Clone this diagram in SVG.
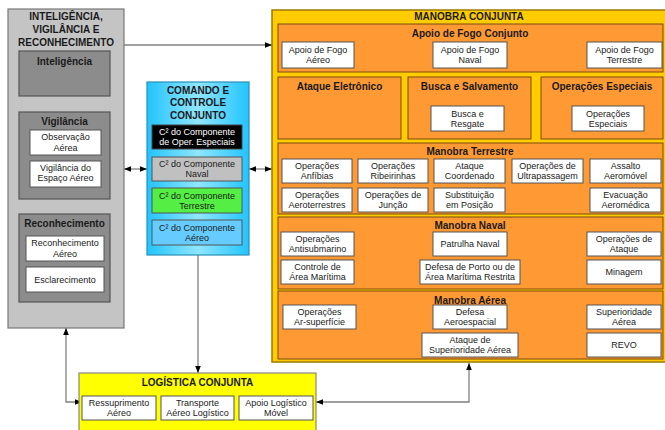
<svg xmlns="http://www.w3.org/2000/svg" width="665" height="430" viewBox="0 0 665 430">
<style>
text{font-family:"Liberation Sans",Arial,sans-serif;text-anchor:middle;fill:#1a1a1a}
.t{font-size:10px;font-weight:bold}
.b{font-size:9px}
.w{fill:#fff;stroke:#555;stroke-width:1}
.or{fill:#FF9933;stroke:#7a4a10;stroke-width:1}
.gi{fill:#8c8c8c;stroke:#555;stroke-width:1.2}
.c{fill:none;stroke:#808080;stroke-width:1.3}
</style>
<defs>
<marker id="ah" viewBox="0 0 10 10" refX="10" refY="5" markerWidth="7" markerHeight="7" orient="auto-start-reverse" markerUnits="userSpaceOnUse">
<path d="M0,1 L10,5 L0,9 Z" fill="#000"/>
</marker>
<linearGradient id="cg" x1="0" y1="0" x2="1" y2="0">
<stop offset="0" stop-color="#22C4FF"/><stop offset="0.5" stop-color="#8FE6FF"/><stop offset="1" stop-color="#22C4FF"/>
</linearGradient>
</defs>

<g id="connectors">
<line class="c" x1="124" y1="45" x2="272" y2="45" marker-end="url(#ah)"/>
<line class="c" x1="124" y1="169" x2="147" y2="169" marker-start="url(#ah)" marker-end="url(#ah)"/>
<line class="c" x1="249" y1="169" x2="272" y2="169" marker-start="url(#ah)" marker-end="url(#ah)"/>
<line class="c" x1="198" y1="255" x2="198" y2="373" marker-end="url(#ah)"/>
<polyline class="c" points="66,328 66,402 82,402" marker-start="url(#ah)" marker-end="url(#ah)"/>
<polyline class="c" points="316,402 469,402 469,363" marker-start="url(#ah)" marker-end="url(#ah)"/>
</g>

<g id="isr">
<rect x="8" y="9" width="116" height="319" fill="#C4C4C4" stroke="#777" stroke-width="1.2"/>
<text class="t" x="66" y="20">INTELIGÊNCIA,</text>
<text class="t" x="66" y="33">VIGILÂNCIA E</text>
<text class="t" x="66" y="46">RECONHECIMENTO</text>
<g id="inteligencia">
<rect class="gi" x="19" y="51" width="91" height="45" fill="#808080"/>
<text class="t" x="64.5" y="64.5">Inteligência</text>
</g>
<g id="vigilancia">
<rect class="gi" x="19" y="112" width="91" height="87"/>
<text class="t" x="64.5" y="124.5">Vigilância</text>
<rect class="w" x="30" y="130" width="71" height="25"/>
<text class="b" x="65.5" y="140">Observação</text>
<text class="b" x="65.5" y="150.5">Aérea</text>
<rect class="w" x="30" y="161" width="71" height="26"/>
<text class="b" x="65.5" y="170.5">Vigilância do</text>
<text class="b" x="65.5" y="181">Espaço Aéreo</text>
</g>
<g id="reconhecimento">
<rect class="gi" x="19" y="214" width="91" height="88"/>
<text class="t" x="64.5" y="227">Reconhecimento</text>
<rect class="w" x="26" y="236" width="78" height="25"/>
<text class="b" x="65" y="246">Reconhecimento</text>
<text class="b" x="65" y="256.5">Aéreo</text>
<rect class="w" x="26" y="267" width="78" height="25"/>
<text class="b" x="65" y="282.5">Esclarecimento</text>
</g>
</g>

<g id="c2">
<rect x="147" y="82" width="102" height="173" fill="url(#cg)" stroke="#2a8fb8" stroke-width="1.2"/>
<text class="t" x="198" y="93.5">COMANDO E</text>
<text class="t" x="198" y="106">CONTROLE</text>
<text class="t" x="198" y="118.5">CONJUNTO</text>
<rect x="152" y="125" width="90" height="24" fill="#000" stroke="#444"/>
<text class="b" x="197" y="134.5" style="fill:#fff">C² do Componente</text>
<text class="b" x="197" y="144.5" style="fill:#fff">de Oper. Especiais</text>
<rect x="152" y="157" width="90" height="24" fill="#C0C0C0" stroke="#555"/>
<text class="b" x="197" y="166.5">C² do Componente</text>
<text class="b" x="197" y="176.5">Naval</text>
<rect x="152" y="188" width="90" height="25" fill="#55EE44" stroke="#555"/>
<text class="b" x="197" y="198.5">C² do Componente</text>
<text class="b" x="197" y="208.5">Terrestre</text>
<rect x="152" y="220" width="90" height="25" fill="#66CCFF" stroke="#555"/>
<text class="b" x="197" y="230.5">C² do Componente</text>
<text class="b" x="197" y="240.5">Aéreo</text>
</g>

<g id="manobra">
<rect x="272" y="10" width="400" height="352" fill="#FFCC00" stroke="#A07800" stroke-width="1.5"/>
<text class="t" x="469" y="20">MANOBRA CONJUNTA</text>

<g id="apoio-fogo">
<rect class="or" x="278" y="24" width="385" height="48"/>
<text class="t" x="470" y="37">Apoio de Fogo Conjunto</text>
<rect class="w" x="282" y="42" width="72" height="26"/>
<text class="b" x="318" y="52.5">Apoio de Fogo</text>
<text class="b" x="318" y="62.5">Aéreo</text>
<rect class="w" x="433" y="42" width="74" height="26"/>
<text class="b" x="470" y="52.5">Apoio de Fogo</text>
<text class="b" x="470" y="62.5">Naval</text>
<rect class="w" x="587" y="42" width="75" height="26"/>
<text class="b" x="624.5" y="52.5">Apoio de Fogo</text>
<text class="b" x="624.5" y="62.5">Terrestre</text>
</g>

<g id="ataque-eletronico">
<rect class="or" x="278" y="77" width="123" height="62"/>
<text class="t" x="339.5" y="89.5">Ataque Eletrônico</text>
</g>
<g id="busca-salvamento">
<rect class="or" x="408" y="77" width="123" height="62"/>
<text class="t" x="469.5" y="89.5">Busca e Salvamento</text>
<rect class="w" x="431" y="106" width="73" height="25"/>
<text class="b" x="467.5" y="116.5">Busca e</text>
<text class="b" x="467.5" y="126.5">Resgate</text>
</g>
<g id="operacoes-especiais">
<rect class="or" x="541" y="77" width="122" height="62"/>
<text class="t" x="602" y="89.5">Operações Especiais</text>
<rect class="w" x="572" y="106" width="72" height="25"/>
<text class="b" x="608" y="116.5">Operações</text>
<text class="b" x="608" y="126.5">Especiais</text>
</g>

<g id="manobra-terrestre">
<rect class="or" x="278" y="143" width="385" height="71"/>
<text class="t" x="470" y="154.5">Manobra Terrestre</text>
<rect class="w" x="282" y="159" width="70" height="24"/>
<text class="b" x="317" y="168.5">Operações</text>
<text class="b" x="317" y="178.5">Anfíbias</text>
<rect class="w" x="358" y="159" width="70" height="24"/>
<text class="b" x="393" y="168.5">Operações</text>
<text class="b" x="393" y="178.5">Ribeirinhas</text>
<rect class="w" x="434" y="159" width="71" height="24"/>
<text class="b" x="469.5" y="168.5">Ataque</text>
<text class="b" x="469.5" y="178.5">Coordenado</text>
<rect class="w" x="512" y="159" width="71" height="24"/>
<text class="b" x="547.5" y="168.5">Operações de</text>
<text class="b" x="547.5" y="178.5">Ultrapassagem</text>
<rect class="w" x="590" y="159" width="71" height="24"/>
<text class="b" x="625.5" y="168.5">Assalto</text>
<text class="b" x="625.5" y="178.5">Aeromóvel</text>
<rect class="w" x="282" y="188" width="70" height="24"/>
<text class="b" x="317" y="197.5">Operações</text>
<text class="b" x="317" y="207.5">Aeroterrestres</text>
<rect class="w" x="358" y="188" width="70" height="24"/>
<text class="b" x="393" y="197.5">Operações de</text>
<text class="b" x="393" y="207.5">Junção</text>
<rect class="w" x="434" y="188" width="71" height="24"/>
<text class="b" x="469.5" y="197.5">Substituição</text>
<text class="b" x="469.5" y="207.5">em Posição</text>
<rect class="w" x="590" y="188" width="71" height="24"/>
<text class="b" x="625.5" y="197.5">Evacuação</text>
<text class="b" x="625.5" y="207.5">Aeromédica</text>
</g>

<g id="manobra-naval">
<rect class="or" x="278" y="217" width="385" height="72"/>
<text class="t" x="470" y="228.5">Manobra Naval</text>
<rect class="w" x="281" y="232" width="73" height="24"/>
<text class="b" x="317.5" y="241.5">Operações</text>
<text class="b" x="317.5" y="251.5">Antisubmarino</text>
<rect class="w" x="433" y="232" width="74" height="24"/>
<text class="b" x="470" y="247">Patrulha Naval</text>
<rect class="w" x="587" y="232" width="74" height="24"/>
<text class="b" x="624" y="241.5">Operações de</text>
<text class="b" x="624" y="251.5">Ataque</text>
<rect class="w" x="281" y="260" width="73" height="24"/>
<text class="b" x="317.5" y="269.5">Controle de</text>
<text class="b" x="317.5" y="279.5">Área Marítima</text>
<rect class="w" x="420" y="260" width="100" height="24"/>
<text class="b" x="470" y="269.5">Defesa de Porto ou de</text>
<text class="b" x="470" y="279.5">Área Marítima Restrita</text>
<rect class="w" x="587" y="260" width="74" height="24"/>
<text class="b" x="624" y="275">Minagem</text>
</g>

<g id="manobra-aerea">
<rect class="or" x="278" y="291" width="385" height="68"/>
<text class="t" x="470" y="303.5">Manobra Aérea</text>
<rect class="w" x="283" y="305" width="73" height="24"/>
<text class="b" x="319.5" y="314.5">Operações</text>
<text class="b" x="319.5" y="324.5">Ar-superfície</text>
<rect class="w" x="433" y="305" width="74" height="24"/>
<text class="b" x="470" y="314.5">Defesa</text>
<text class="b" x="470" y="324.5">Aeroespacial</text>
<rect class="w" x="587" y="305" width="74" height="24"/>
<text class="b" x="624" y="314.5">Superioridade</text>
<text class="b" x="624" y="324.5">Aérea</text>
<rect class="w" x="422" y="333" width="96" height="24"/>
<text class="b" x="470" y="342.5">Ataque de</text>
<text class="b" x="470" y="352.5">Superioridade Aérea</text>
<rect class="w" x="587" y="333" width="74" height="24"/>
<text class="b" x="624" y="348">REVO</text>
</g>
</g>

<g id="logistica">
<rect x="79" y="373" width="237" height="60" fill="#FFFF00" stroke="#888" stroke-width="1.2"/>
<text class="t" x="197.5" y="385.5">LOGÍSTICA CONJUNTA</text>
<rect class="w" x="82" y="396" width="74" height="24"/>
<text class="b" x="119" y="405.5">Ressuprimento</text>
<text class="b" x="119" y="415.5">Aéreo</text>
<rect class="w" x="161" y="396" width="73" height="24"/>
<text class="b" x="197.5" y="405.5">Transporte</text>
<text class="b" x="197.5" y="415.5">Aéreo Logístico</text>
<rect class="w" x="239" y="396" width="74" height="24"/>
<text class="b" x="276" y="405.5">Apoio Logístico</text>
<text class="b" x="276" y="415.5">Móvel</text>
</g>
</svg>
